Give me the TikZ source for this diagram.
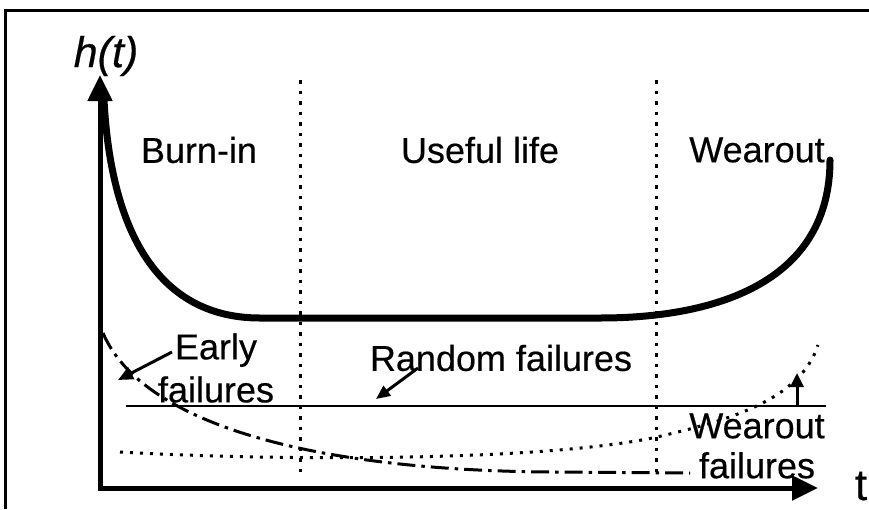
\documentclass[tikz,border=0pt]{standalone}
\usepackage{fontspec}
\setmainfont{Liberation Sans}[FakeBold=0.4]
\usetikzlibrary{arrows.meta}

\begin{document}
\begin{tikzpicture}[x=1pt,y=-1pt,
  lbl/.style={inner sep=0pt, font=\fontsize{36}{43}\selectfont},
  axisline/.style={line width=5pt, -{Triangle[length=26pt,width=24pt]}},
  bathtub/.style={line width=7pt, line cap=round},
  divider/.style={line width=3pt, dash pattern=on 3.5pt off 7pt},
  earlycurve/.style={line width=3pt, dash pattern=on 18pt off 6pt on 3.5pt off 6pt},
  wearcurve/.style={line width=3pt, dash pattern=on 3pt off 7pt},
  pointer/.style={line width=3pt, -{Triangle[length=15pt,width=13pt]}}
]
\useasboundingbox (0,0) rectangle (869,509);

% frame (left and top edges)
\draw[line width=3pt] (5,509) -- (5,10) -- (869,10);

% axes
\coordinate (origin) at (100,491);
\coordinate (yend) at (100,75);
\coordinate (xorigin) at (98,488);
\coordinate (xend) at (818,488);
\draw[axisline] (origin) -- (yend);
\draw[axisline] (xorigin) -- (xend);
\node[inner sep=0pt, font=\fontsize{43}{50}\selectfont\itshape] (hlab) at (106,56) {h(t)};
\node[inner sep=0pt, font=\fontsize{44}{52}\selectfont] (tlab) at (861,486) {t};

% phase dividers
\draw[divider] (300,80) -- (300,477);
\draw[divider] (656,80) -- (656,477);

% bathtub curve
\draw[bathtub] (104,100) .. controls (112,250) and (170,318) .. (260,318)
  -- (600,318) .. controls (720,318) and (830,280) .. (830,160);

% component curves
\draw[earlycurve] (103,333) .. controls (140,420) and (300,470) .. (550,472) -- (690,473);
\draw[wearcurve] (120,452) .. controls (300,462) and (550,460) .. (657,437)
  .. controls (730,420) and (800,400) .. (818,345);
\draw[line width=2.5pt] (126,406) -- (826,406);

% phase labels
\node[lbl] (burn) at (199,150) {Burn-in};
\node[lbl] (useful) at (480,150) {Useful life};
\node[lbl] (wearTop) at (757,150) {Wearout};

% failure labels
\node[lbl, align=center] (early) at (216,368) {Early\\failures};
\node[lbl] (random) at (501,358) {Random failures};
\node[lbl, align=center, font=\fontsize{36}{40}\selectfont] (wearLow) at (757,446) {Wearout\\failures};

% pointers
\coordinate (earlyFrom) at (172,352);
\coordinate (earlyTo) at (118,380);
\draw[pointer] (earlyFrom) -- (earlyTo);
\coordinate (randomFrom) at (418,368);
\coordinate (randomTo) at (376,399);
\draw[pointer, -{Triangle[length=14pt,width=12pt]}] (randomFrom) -- (randomTo);
\coordinate (wearFrom) at (797,406);
\coordinate (wearTo) at (797,373);
\draw[pointer, -{Triangle[length=14pt,width=13pt]}] (wearFrom) -- (wearTo);
\end{tikzpicture}
\end{document}
